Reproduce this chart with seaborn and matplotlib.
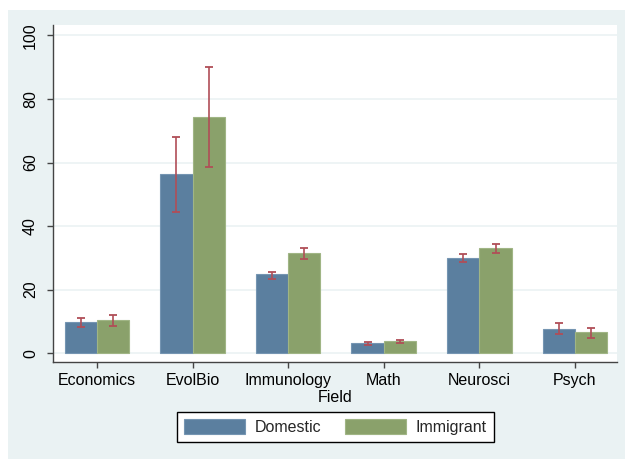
import matplotlib
matplotlib.use("Agg")
import matplotlib.pyplot as plt
from matplotlib.patches import Rectangle
import numpy as np
import pandas as pd
import seaborn as sns

# Mean values and confidence bounds per field and origin group
fields = ["Economics", "EvolBio", "Immunology", "Math", "Neurosci", "Psych"]
domestic = [9.9, 56.4, 24.8, 3.1, 30.0, 7.7]
domestic_lo = [8.3, 44.5, 23.2, 2.7, 28.6, 5.9]
domestic_hi = [10.9, 68.1, 25.6, 3.5, 31.2, 9.5]
immigrant = [10.3, 74.4, 31.6, 3.8, 33.2, 6.5]
immigrant_lo = [8.5, 58.5, 29.6, 3.1, 31.6, 4.7]
immigrant_hi = [11.9, 90.2, 33.2, 4.0, 34.3, 8.0]
groups = ["Domestic", "Immigrant"]
yticks = [0, 20, 40, 60, 80, 100]

df = pd.DataFrame({
    "Field": fields * 2,
    "Group": [groups[0]] * len(fields) + [groups[1]] * len(fields),
    "value": domestic + immigrant,
    "lo": domestic_lo + immigrant_lo,
    "hi": domestic_hi + immigrant_hi,
})

sns.set_theme(style="white")
plt.rcParams["font.family"] = ["Liberation Sans", "DejaVu Sans"]

BG = "#EAF2F3"
COLORS = {"Domestic": "#5B7F9F", "Immigrant": "#8AA16B"}
EDGES = {"Domestic": "#7595B2", "Immigrant": "#A0B585"}
ERR = "#B04E57"
AXC = "#444444"
FS = 11.5

fig = plt.figure(figsize=(6.25, 4.59), dpi=100, facecolor="white")
fig.patches.append(Rectangle((8 / 625, 0), 1, (459 - 10) / 459,
                             transform=fig.transFigure, facecolor=BG,
                             edgecolor="none", zorder=-10))
ax = fig.add_axes([53.3 / 625, 1 - 362.3 / 459, 563.7 / 625, 337.3 / 459])
ax.set_facecolor("white")

sns.barplot(data=df, x="Field", y="value", hue="Group", order=fields,
            hue_order=groups, palette=COLORS, errorbar=None, width=0.676,
            gap=0, dodge=True, saturation=1, ax=ax, legend=False, zorder=3)

# Bar outlines and confidence intervals, placed at each bar's centre
for container, grp in zip(ax.containers, groups):
    sub = df[df["Group"] == grp].set_index("Field").loc[fields]
    xs = []
    for patch in container:
        patch.set_edgecolor(EDGES[grp])
        patch.set_linewidth(0.8)
        xs.append(patch.get_x() + patch.get_width() / 2)
    vals = sub["value"].to_numpy()
    yerr = np.vstack([vals - sub["lo"].to_numpy(), sub["hi"].to_numpy() - vals])
    ax.errorbar(xs, vals, yerr=yerr, fmt="none", ecolor=ERR, elinewidth=1.2,
                capsize=3.0, capthick=1.3, zorder=5)

ax.set_xlim(-0.457, 5.44)
ax.set_ylim(-2.9, 103.3)
ax.set_yticks(yticks)
ax.set_yticklabels([str(t) for t in yticks])
ax.yaxis.grid(True, color="#EDF3F4", linewidth=1.3, zorder=0)
ax.set_axisbelow(True)

for side in ["top", "right"]:
    ax.spines[side].set_visible(False)
for side in ["left", "bottom"]:
    ax.spines[side].set_color(AXC)
    ax.spines[side].set_linewidth(1.0)

ax.tick_params(axis="both", which="major", direction="out", length=4,
               width=1.0, color=AXC, labelsize=FS, labelcolor="black",
               left=True, bottom=True)
ax.tick_params(axis="y", pad=7.0)
ax.tick_params(axis="x", pad=3.5)
for lbl in ax.get_yticklabels():
    lbl.set_rotation(90)
    lbl.set_va("center")

ax.set_ylabel("")
ax.set_xlabel("Field", fontsize=FS, labelpad=1.5, color="black")

handles = [Rectangle((0, 0), 1, 1, facecolor=COLORS[g], edgecolor=EDGES[g],
                     linewidth=0.8) for g in groups]
leg = fig.legend(handles, groups, loc="center",
                 bbox_to_anchor=(335.5 / 625, 1 - 427 / 459), ncol=2,
                 frameon=True, fancybox=False, fontsize=FS,
                 handlelength=3.8, handleheight=1.1, handletextpad=0.6,
                 columnspacing=1.5, borderpad=0.45)
leg.get_frame().set_edgecolor("black")
leg.get_frame().set_linewidth(1.0)
leg.get_frame().set_facecolor("white")
leg.get_frame().set_alpha(1)

fig.savefig("out.png", dpi=100, facecolor="white")
